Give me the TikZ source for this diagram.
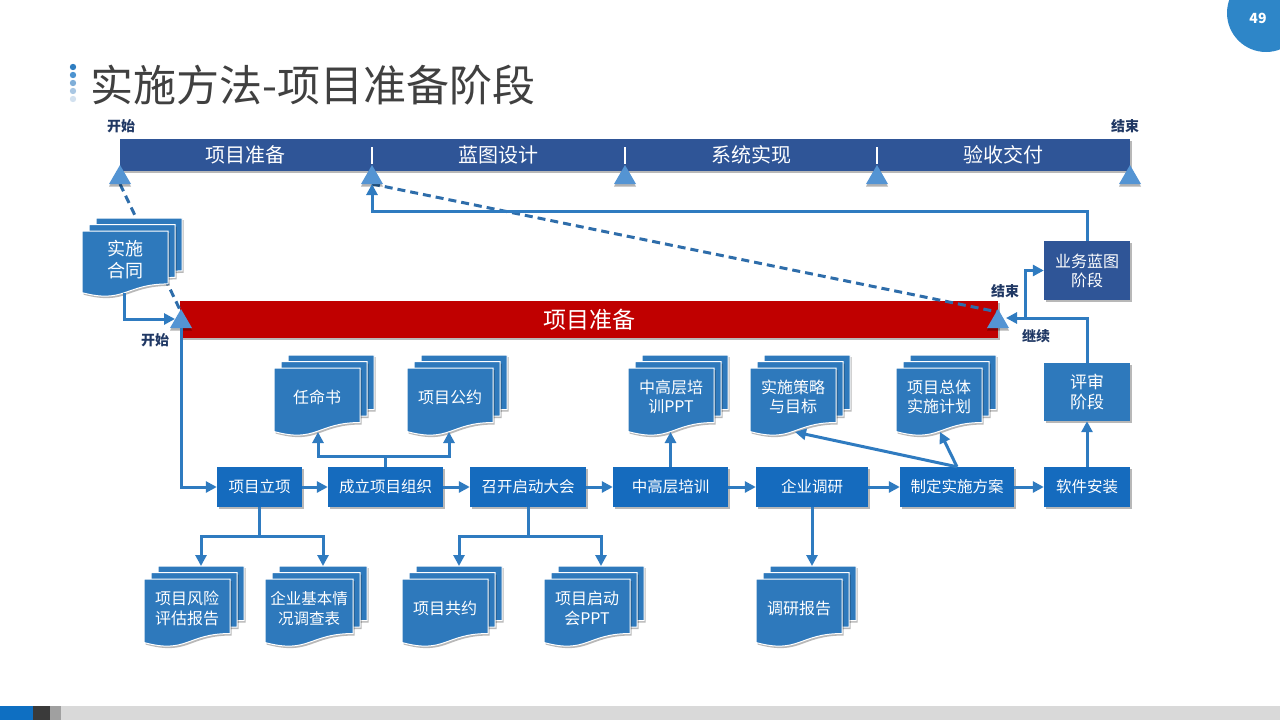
\documentclass[tikz,border=0pt]{standalone}
\usepackage{fontspec}
\setmainfont{Noto Sans CJK SC}
\usetikzlibrary{arrows.meta,shadows,calc}
\definecolor{barblue}{HTML}{2F5597}
\definecolor{procblue}{HTML}{156BBE}
\definecolor{docblue}{HTML}{2E79BC}
\definecolor{lineblue}{HTML}{2F7BC0}
\definecolor{dashblue}{HTML}{2E6DAA}
\definecolor{triblue}{HTML}{5494D3}
\definecolor{redbar}{HTML}{C00000}
\definecolor{labelblue}{HTML}{203864}
\definecolor{titlegray}{HTML}{404040}
\definecolor{pageblue}{HTML}{2E86C8}
\definecolor{s1}{HTML}{0E6FC2}
\definecolor{s2}{HTML}{3A3A3A}
\definecolor{s3}{HTML}{A0A0A0}
\definecolor{s4}{HTML}{D9D9D9}

\newcommand\docsheet[4]{%
  \path[docsh] ({#1},{#2}) -- ({#1+#3},{#2}) -- ({#1+#3},{#2+0.802*#4})
    .. controls ({#1+0.5*#3},{#2+0.802*#4}) and ({#1+0.5*#3},{#2+1.107*#4}) .. ({#1},{#2+0.934*#4}) -- cycle;}
\newcommand\docstack[8]{% name, x, y, w, h, font size, leading, text
  \docsheet{#2+14}{#3-13}{#4}{#5}
  \docsheet{#2+7}{#3-6.5}{#4}{#5}
  \docsheet{#2}{#3}{#4}{#5}
  \node[doctext, font=\fontsize{#6}{#7}\selectfont] (#1) at ({#2+0.5*#4},{#3+0.43*#5}) {#8};}

\begin{document}
\begin{tikzpicture}[x=1pt,y=-1pt,
  shad/.style={drop shadow={shadow xshift=1.5pt,shadow yshift=-2pt,opacity=0.28,fill=black}},
  docsh/.style={fill=docblue, draw=white, line width=1pt, shad},
  doctext/.style={text=white, align=center, inner sep=0pt},
  proc/.style={fill=procblue, text=white, minimum height=40pt, inner sep=0pt, font=\fontsize{15.5}{19}\selectfont, shad},
  stagebox/.style={text=white, minimum width=86pt, inner sep=0pt, align=center, shad},
  conn/.style={draw=lineblue, line width=3pt, -{Triangle[length=11pt,width=11pt]}},
  dashl/.style={draw=dashblue, line width=3pt, dash pattern=on 8pt off 5pt},
  tri/.style={fill=triblue, drop shadow={shadow xshift=0pt,shadow yshift=-2.5pt,opacity=0.3,fill=black}},
  lab/.style={text=labelblue, font=\fontsize{14}{16}\selectfont\bfseries, inner sep=0pt},
  tl/.style={text=white, font=\fontsize{20}{22}\selectfont, inner sep=0pt}
]
\useasboundingbox (0,0) rectangle (1280,720);
\clip (0,0) rectangle (1280,720);

% page number
\node[circle, fill=pageblue, minimum size=78pt, inner sep=0pt] (pgc) at (1266,13) {};
\node[text=white, font=\fontsize{14}{16}\selectfont\bfseries] (pgn) at (1258,18) {49};

% title
\foreach \yy/\cc in {67/2E7DC0,75/4C93D0,83/7FAED8,91/A9C7E3,99/D2E1EF}{
  \definecolor{dotc}{HTML}{\cc}
  \fill[dotc] (73,\yy) circle (3.2pt);
}
\node[anchor=west, inner sep=0pt, text=titlegray, font=\fontsize{43}{48}\selectfont] (title) at (90,85) {实施方法-项目准备阶段};

% bottom strip
\fill[s4] (0,706) rectangle (1280,720);
\fill[s1] (0,706) rectangle (33,720);
\fill[s2] (33,706) rectangle (50,720);
\fill[s3] (50,706) rectangle (61,720);

% timeline bar
\node[fill=barblue, minimum width=1010pt, minimum height=32pt, inner sep=0pt, shad] (bar) at (625,155) {};
\node[tl] (p1) at (245,155) {项目准备};
\node[tl] (p2) at (498,155) {蓝图设计};
\node[tl] (p3) at (751,155) {系统实现};
\node[tl] (p4) at (1003,155) {验收交付};
\foreach \x in {372,625,877}{\draw[white, line width=2.5pt] (\x,147) -- (\x,164);}
\node[lab] (startT) at (121,126) {开始};
\node[lab] (endT) at (1125,126) {结束};

% red bar
\node[fill=redbar, minimum width=818pt, minimum height=37pt, inner sep=0pt, text=white,
      font=\fontsize{23}{26}\selectfont, shad] (prep) at (589,319.5) {项目准备};
\node[lab] (startR) at (155,340) {开始};
\node[lab] (endR) at (1005,291) {结束};
\node[lab] (cont) at (1036,336) {继续};

% coordinates
\foreach \x/\n in {120/0,372/1,625/2,877/3,1130/4}{\coordinate (tt\n) at (\x,184);}
\coordinate (rl) at (181,312);
\coordinate (rr) at (998,312);

% dashed lines
\draw[dashl] (tt0) -- (rl);
\draw[dashl] (tt1) -- (rr);

% documents
\docstack{hetong}{82}{231}{86}{66}{18}{22}{实施\\合同}
\docstack{renming}{274}{368}{86}{68}{16}{19}{任命书}
\docstack{gongyue}{407}{368}{86}{68}{16}{19}{项目公约}
\docstack{pptA}{628}{368}{86}{68}{16}{19}{中高层培\\训PPT}
\docstack{celue}{750}{368}{86}{68}{16}{19}{实施策略\\与目标}
\docstack{jihua}{896}{368}{86}{68}{16}{19}{项目总体\\实施计划}
\docstack{fengxian}{144}{579}{86}{68}{16}{20}{项目风险\\评估报告}
\docstack{jiben}{265}{579}{88}{68}{15.5}{20}{企业基本情\\况调查表}
\docstack{gongyueB}{402}{579}{86}{68}{16}{20}{项目共约}
\docstack{pptB}{544}{579}{86}{68}{16}{20}{项目启动\\会PPT}
\docstack{baogao}{756}{579}{86}{68}{16}{20}{调研报告}

% triangles
\foreach \x in {120,372,625,877,1130}{\path[tri] (\x-11,184) -- (\x+11,184) -- (\x,165) -- cycle;}
\path[tri] (170,328) -- (192,328) -- (181,309) -- cycle;
\path[tri] (987,328) -- (1009,328) -- (998,309) -- cycle;

% process boxes
\node[proc, minimum width=85pt] (lixiang) at (259.5,487) {项目立项};
\node[proc, minimum width=115pt] (zuzhi) at (385.5,487) {成立项目组织};
\node[proc, minimum width=116pt] (qidong) at (528,487) {召开启动大会};
\node[proc, minimum width=115pt] (peixun) at (670.5,487) {中高层培训};
\node[proc, minimum width=112pt] (diaoyan) at (812,487) {企业调研};
\node[proc, minimum width=114pt] (fangan) at (957,487) {制定实施方案};
\node[proc, minimum width=86pt] (anzhuang) at (1087,487) {软件安装};
\node[stagebox, fill=docblue, minimum height=58pt, font=\fontsize{17}{20}\selectfont] (pingshen) at (1087,392) {评审\\阶段};
\node[stagebox, fill=barblue, minimum height=59pt, font=\fontsize{16}{19}\selectfont] (lantu) at (1087,270.5) {业务蓝图\\阶段};

% connector end points
\coordinate (ht-out) at (124,293);
\coordinate (rl-in) at (175,319);
\coordinate (rl-out) at (181,328);
\coordinate (rr-in) at (1006,318);
\coordinate (br) at (1025,318);
\coordinate (renming-in) at (318,432);
\coordinate (gongyue-in) at (449,432);
\coordinate (pptA-in) at (670.5,432);
\coordinate (celue-in) at (795,432);
\coordinate (jihua-in) at (940,432);
\coordinate (fengxian-in) at (201,566);
\coordinate (jiben-in) at (323,566);
\coordinate (gongyueB-in) at (459,566);
\coordinate (pptB-in) at (601,566);
\coordinate (baogao-in) at (812,566);

% connectors
\draw[conn] (ht-out) |- (rl-in);
\draw[conn] (rl-out) |- (lixiang.west);
\draw[conn] (lixiang) -- (zuzhi);
\draw[conn] (zuzhi) -- (qidong);
\draw[conn] (qidong) -- (peixun);
\draw[conn] (peixun) -- (diaoyan);
\draw[conn] (diaoyan) -- (fangan);
\draw[conn] (fangan) -- (anzhuang);
\draw[conn] (anzhuang) -- (pingshen);
\draw[conn] (pingshen.north) |- (rr-in);
\draw[conn] (br) |- (lantu.west);
\draw[conn] (lantu.north) -- ++(0,-29) -| (tt1);
\draw[conn] (zuzhi.north) -- ++(0,-10) -| (renming-in);
\draw[conn] (zuzhi.north) -- ++(0,-10) -| (gongyue-in);
\draw[conn] (peixun.north) -- (pptA-in);
\draw[conn] (fangan.north) -- (celue-in);
\draw[conn] (fangan.north) -- (jihua-in);
\draw[conn] (lixiang.south) -- ++(0,29) -| (fengxian-in);
\draw[conn] (lixiang.south) -- ++(0,29) -| (jiben-in);
\draw[conn] (qidong.south) -- ++(0,29) -| (gongyueB-in);
\draw[conn] (qidong.south) -- ++(0,29) -| (pptB-in);
\draw[conn] (diaoyan.south) -- (baogao-in);
\end{tikzpicture}
\end{document}
